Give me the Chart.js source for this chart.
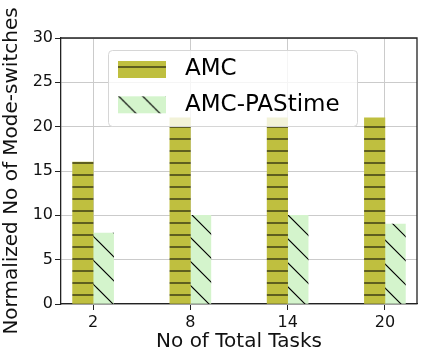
<!DOCTYPE html>
<html>
<head>
<meta charset="utf-8">
<script src="https://cdn.jsdelivr.net/npm/chart.js@4.4.1/dist/chart.umd.min.js"></script>
<style>
  html, body { margin: 0; padding: 0; background: #fff; }
  #wrap { width: 428px; height: 359px; }
</style>
</head>
<body>
<div id="wrap"><canvas id="modes-chart" width="428" height="359"></canvas></div>
<script>
  const categories = ['2', '8', '14', '20'];
  const amcValues = [16, 21, 21, 21];
  const pastimeValues = [8, 10, 10, 9];
  const yTicks = [0, 5, 10, 15, 20, 25, 30];
  const seriesNames = ['AMC', 'AMC-PAStime'];

  const fontFamily = "'DejaVu Sans', sans-serif";

  // hatch tiles, drawn once and repeated
  function makeHatch(bg, size, draw) {
    const c = document.createElement('canvas');
    c.width = size;
    c.height = size;
    const g = c.getContext('2d');
    g.fillStyle = bg;
    g.fillRect(0, 0, size, size);
    draw(g, size);
    return g.createPattern(c, 'repeat');
  }

  var hatchAmc = makeHatch('#bfbf3f', 12, function (g, s) {
    g.fillStyle = '#5e5e1f';
    g.fillRect(0, 6, s, 2);
  });

  var hatchPastime = makeHatch('#d4f4cc', 24, function (g, s) {
    g.strokeStyle = '#000';
    g.lineWidth = 1.2;
    g.beginPath();
    [-s, 0, s].forEach(function (o) {
      g.moveTo(o - 1, -2);
      g.lineTo(o + s + 3, s + 2);
    });
    g.stroke();
  });

  // top + right spines
  const frame = {
    id: 'frame',
    afterDatasetsDraw: function (chart) {
      const a = chart.chartArea;
      const g = chart.ctx;
      g.save();
      g.strokeStyle = '#222';
      g.lineWidth = 1.3;
      g.beginPath();
      g.moveTo(a.left, a.top);
      g.lineTo(a.right, a.top);
      g.lineTo(a.right, a.bottom);
      g.stroke();
      g.restore();
    }
  };

  const legendBox = {
    id: 'legendBox',
    afterDraw: function (chart) {
      const g = chart.ctx;
      g.save();
      g.beginPath();
      g.roundRect(108.5, 50.5, 249, 76, 4);
      g.fillStyle = 'rgba(255, 255, 255, 0.8)';
      g.fill();
      g.strokeStyle = '#d6d6d6';
      g.lineWidth = 1;
      g.stroke();
      g.font = '23px ' + fontFamily;
      g.textBaseline = 'middle';
      chart.data.datasets.forEach(function (ds, i) {
        const y = 61 + i * 35.3;
        g.save();
        if (i === 1) g.translate(-2.5, 0);
        g.fillStyle = ds.backgroundColor;
        g.fillRect(118 + (i === 1 ? 2.5 : 0), y, 48, 17);
        g.restore();
        g.fillStyle = '#000';
        g.fillText(ds.label, 185, y + 8.5);
      });
      g.restore();
    }
  };

  const ctx = document.getElementById('modes-chart');

  new Chart(ctx, {
    type: 'bar',
    data: {
      datasets: [{
        label: seriesNames[0],
        data: amcValues.map(function (v, i) { return { x: i, y: v }; }),
        backgroundColor: hatchAmc,
        hoverBackgroundColor: hatchAmc,
        borderWidth: 0,
        barThickness: 20.5
      },
      {
        label: seriesNames[1],
        data: pastimeValues.map(function (v, i) { return { x: i, y: v }; }),
        backgroundColor: hatchPastime,
        hoverBackgroundColor: hatchPastime,
        borderWidth: 0,
        barThickness: 20.5
      }]
    },
    options: {
      responsive: false,
      animation: false,
      layout: {
        padding: { left: 0, top: 38, right: 11, bottom: 0 }
      },
      scales: {
        x: {
          type: 'linear',
          min: -0.33,
          max: 3.33,
          offset: false,
          afterBuildTicks: function (scale) {
            scale.ticks = categories.map(function (c, i) { return { value: i }; });
          },
          afterFit: function (scale) { scale.height = 55; },
          grid: {
            offset: false,
            color: '#cbcbcb',
            tickColor: '#222',
            tickLength: 6,
            lineWidth: 1
          },
          border: { color: '#222', width: 1.3 },
          ticks: {
            padding: 3,
            color: '#111',
            maxRotation: 0,
            autoSkip: false,
            font: { family: fontFamily, size: 16 },
            callback: function (v) { return categories[v]; }
          },
          title: {
            display: true,
            text: 'No of Total Tasks',
            color: '#111',
            font: { family: fontFamily, size: 20 },
            padding: { top: 0, bottom: 5 }
          }
        },
        y: {
          min: 0,
          max: 30,
          afterBuildTicks: function (scale) {
            scale.ticks = yTicks.map(function (v) { return { value: v }; });
          },
          afterFit: function (scale) { scale.width = 61; },
          grid: {
            color: '#cbcbcb',
            tickColor: '#222',
            tickLength: 6,
            lineWidth: 1
          },
          border: { color: '#222', width: 1.3 },
          ticks: {
            padding: 2,
            color: '#111',
            font: { family: fontFamily, size: 16 }
          },
          title: {
            display: true,
            text: 'Normalized No of Mode-switches',
            color: '#111',
            font: { family: fontFamily, size: 20 },
            padding: { top: 0, bottom: 0 }
          }
        }
      },
      plugins: {
        legend: { display: false },
        tooltip: { enabled: false }
      }
    },
    plugins: [frame, legendBox]
  });
</script>
</body>
</html>
